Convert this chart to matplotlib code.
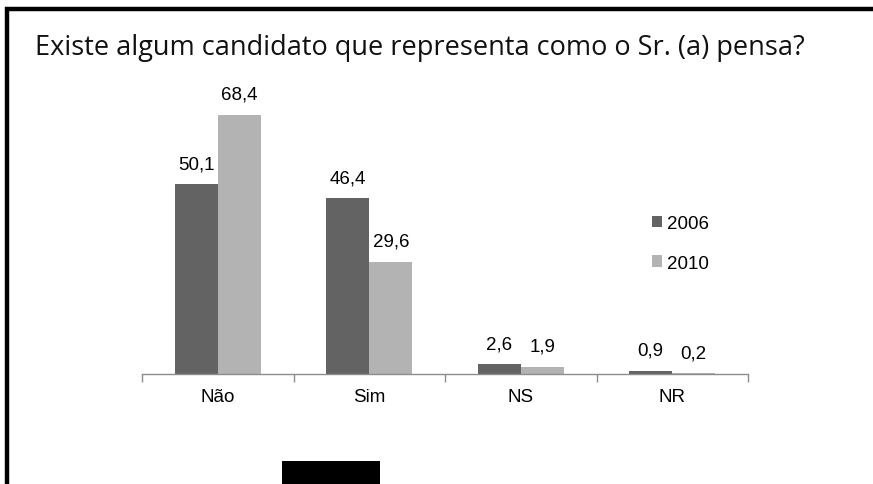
import matplotlib
matplotlib.use("Agg")
import matplotlib.pyplot as plt
from matplotlib.patches import Rectangle
from matplotlib.lines import Line2D
import numpy as np

categories = ["Não", "Sim", "NS", "NR"]
series_names = ["2006", "2010"]
values_2006 = [50.1, 46.4, 2.6, 0.9]
values_2010 = [68.4, 29.6, 1.9, 0.2]
labels_2006 = ["50,1", "46,4", "2,6", "0,9"]
labels_2010 = ["68,4", "29,6", "1,9", "0,2"]
title = "Existe algum candidato que representa como o Sr. (a) pensa?"

W, H = 873, 485
fig = plt.figure(figsize=(W / 100, H / 100), dpi=100)
fig.patch.set_facecolor("white")

# frame lines (top and left)
fig.add_artist(Line2D([5 / W, 1.0], [1 - 10 / H, 1 - 10 / H], color="black", lw=3.2,
                      transform=fig.transFigure, solid_capstyle="butt"))
fig.add_artist(Line2D([7 / W, 7 / W], [0, 1 - 8 / H], color="black", lw=3.2,
                      transform=fig.transFigure, solid_capstyle="butt"))
# black box at bottom
fig.add_artist(Rectangle((282 / W, 0), 98 / W, 23 / H, transform=fig.transFigure,
                         facecolor="black", edgecolor="none"))

fig.text(420 / W, 1 - 48 / H, title, ha="center", va="center", fontsize=19.5,
         family=["Open Sans", "DejaVu Sans"], color="#111111")

ymax = 80
ax = fig.add_axes([142 / W, 110 / H, 606 / W, ymax * 3.79 / H])
ax.set_xlim(-0.5, len(categories) - 0.5)
ax.set_ylim(0, ymax)

x = np.arange(len(categories))
bw = 0.284
c1, c2 = "#636363", "#b3b3b3"
ax.bar(x - bw / 2, values_2006, bw, color=c1, label=series_names[0])
ax.bar(x + bw / 2, values_2010, bw, color=c2, label=series_names[1])

lab_font = dict(fontsize=13.5, family=["Liberation Sans", "DejaVu Sans"], color="black")
for xi, v, l in zip(x, values_2006, labels_2006):
    ax.annotate(l, (xi - bw / 2, v), xytext=(0, 11.5), textcoords="offset points",
                ha="center", va="baseline", **lab_font)
for xi, v, l in zip(x, values_2010, labels_2010):
    ax.annotate(l, (xi + bw / 2, v), xytext=(0, 11.5), textcoords="offset points",
                ha="center", va="baseline", **lab_font)

for s in ["top", "right", "left"]:
    ax.spines[s].set_visible(False)
ax.spines["bottom"].set_color("#8c8c8c")
ax.spines["bottom"].set_linewidth(1.0)
ax.set_yticks([])
ax.set_xticks(np.arange(len(categories) + 1) - 0.5, minor=False)
ax.set_xticklabels([""] * (len(categories) + 1))
ax.tick_params(axis="x", length=6, color="#8c8c8c", width=1.0)
for xi, c in zip(x, categories):
    ax.text(xi, -5.9, c, ha="center", va="center", **lab_font)

leg = ax.legend(loc="upper left", bbox_to_anchor=(639 / W, 1 - 203 / H),
                bbox_transform=fig.transFigure, frameon=False,
                prop={"family": ["Liberation Sans", "DejaVu Sans"], "size": 13.5},
                handlelength=0.55, handleheight=0.55, handletextpad=0.22,
                labelspacing=1.2, borderpad=0.2)

fig.savefig("out.png", dpi=100)
